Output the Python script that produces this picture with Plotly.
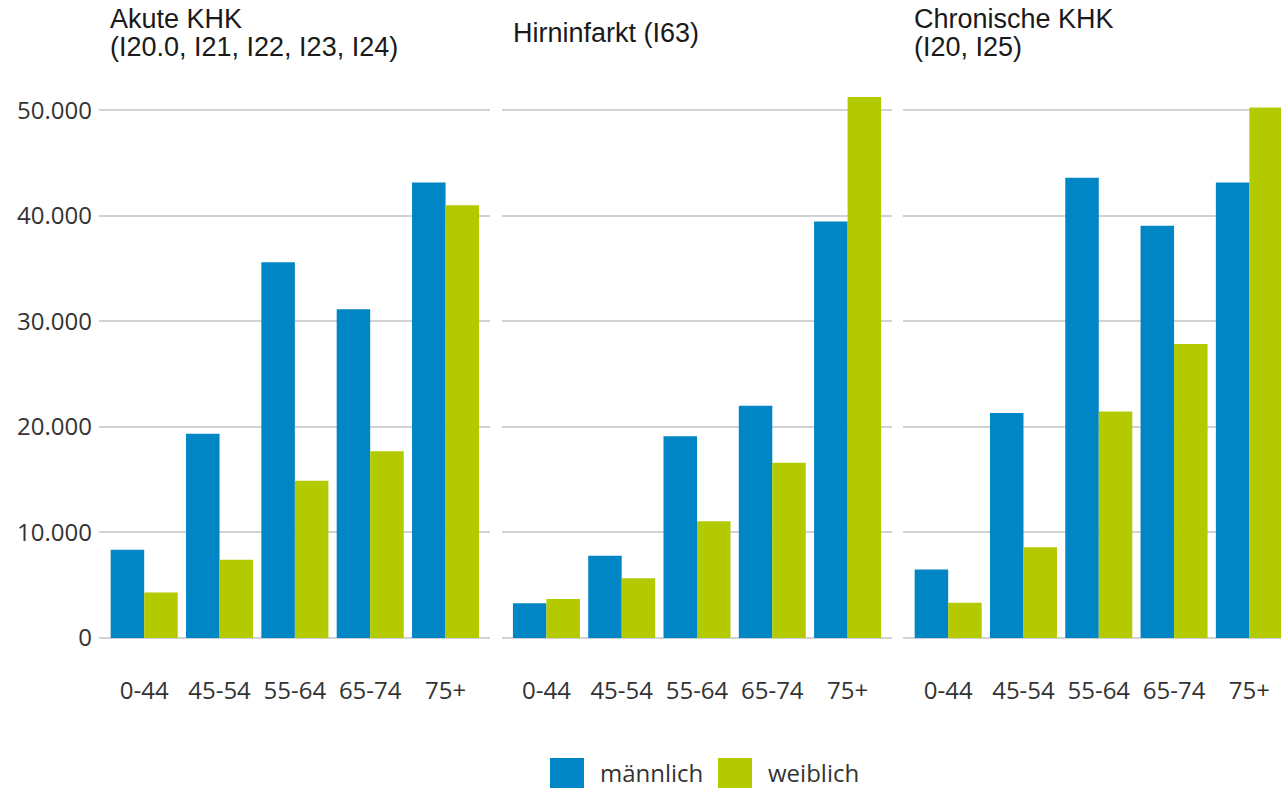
import plotly.graph_objects as go

# --- data ---
age_groups = ["0-44", "45-54", "55-64", "65-74", "75+"]
panel_titles = [
    ["Akute KHK", "(I20.0, I21, I22, I23, I24)"],
    ["Hirninfarkt (I63)"],
    ["Chronische KHK", "(I20, I25)"],
]
akute_khk_m = [8350, 19350, 35600, 31150, 43150]
akute_khk_w = [4300, 7400, 14900, 17700, 41000]
hirninfarkt_m = [3300, 7800, 19100, 22000, 39450]
hirninfarkt_w = [3700, 5650, 11050, 16600, 51250]
chron_khk_m = [6500, 21300, 43600, 39050, 43150]
chron_khk_w = [3350, 8600, 21450, 27850, 50250]
y_ticks = [0, 10000, 20000, 30000, 40000, 50000]

sex_labels = ["männlich", "weiblich"]
colors = ["#0086C5", "#B3C900"]

panels = [
    (akute_khk_m, akute_khk_w),
    (hirninfarkt_m, hirninfarkt_w),
    (chron_khk_m, chron_khk_w),
]

# --- layout geometry (pixels) ---
W, H = 1281, 788
ML, MR, MT, MB = 99, 0, 89, 150
PW = W - ML - MR
PH = H - MT - MB


def px_x(p):
    return (p - ML) / PW


def px_y(p):
    return (H - MB - p) / PH


domains = [[px_x(99), px_x(490)], [px_x(502), px_x(892)], [px_x(903), 1.0]]
x_ranges = [[-0.6, 4.59], [-0.59, 4.59], [-0.6, 4.42]]

fig = go.Figure()

for i, (m_vals, w_vals) in enumerate(panels):
    ax = "" if i == 0 else str(i + 1)
    for vals, name, col in zip((m_vals, w_vals), sex_labels, colors):
        fig.add_trace(go.Bar(
            x=age_groups, y=vals, name=name,
            marker=dict(color=col, line=dict(width=0)),
            xaxis="x" + ax, yaxis="y" + ax,
            showlegend=False,
        ))

axis_font = dict(family="Open Sans", size=24, color="#333333")
gridcol = "#d2d2d2"

layout_axes = {}
for i in range(3):
    key = "" if i == 0 else str(i + 1)
    layout_axes["xaxis" + key] = dict(
        domain=domains[i], range=x_ranges[i], anchor="y" + key,
        showgrid=False, zeroline=False, showline=False,
        tickfont=axis_font, ticks="", ticklabelstandoff=36,
        fixedrange=True,
    )
    layout_axes["yaxis" + key] = dict(
        range=[0, 52000], anchor="x" + key,
        tickvals=y_ticks, tickformat=",d",
        showticklabels=(i == 0), tickfont=axis_font,
        ticklabelstandoff=6,
        showgrid=True, gridcolor=gridcol, gridwidth=1.5,
        zeroline=True, zerolinecolor=gridcol, zerolinewidth=1.5,
        showline=False, fixedrange=True,
    )
    if i > 0:
        layout_axes["yaxis" + key]["matches"] = "y"

# panel titles, one annotation per line to get the tight line spacing
title_centers = {1: [33], 2: [19, 47]}
annotations = []
for i, lines in enumerate(panel_titles):
    for line, yc in zip(lines, title_centers[len(lines)]):
        annotations.append(dict(
            text=line, xref="paper", yref="paper",
            x=domains[i][0], xshift=9, xanchor="left",
            y=px_y(yc), yanchor="middle", align="left", showarrow=False,
            font=dict(family="Liberation Sans", size=27, color="#1a1a1a"),
        ))

# manual legend with large square keys
legend_keys = [(550, 598), (718, 766)]
shapes = []
for (sq_left, txt_left), name, col in zip(legend_keys, sex_labels, colors):
    shapes.append(dict(
        type="rect", xref="paper", yref="paper",
        x0=px_x(sq_left), x1=px_x(sq_left + 34),
        y0=px_y(758), y1=px_y(792),
        fillcolor=col, line=dict(width=0),
    ))
    annotations.append(dict(
        text=name, xref="paper", yref="paper",
        x=px_x(txt_left), xanchor="left",
        y=px_y(772), yanchor="middle", showarrow=False,
        font=dict(family="Open Sans", size=24, color="#333333"),
    ))

fig.update_layout(
    width=W, height=H,
    margin=dict(l=ML, r=MR, t=MT, b=MB, pad=0),
    barmode="group", bargap=0.11, bargroupgap=0,
    separators=",.",
    plot_bgcolor="white", paper_bgcolor="white",
    showlegend=False,
    annotations=annotations, shapes=shapes,
    **layout_axes,
)

fig.write_html("out.html", config={"displayModeBar": False},
               post_script="document.body.style.margin='0';")
